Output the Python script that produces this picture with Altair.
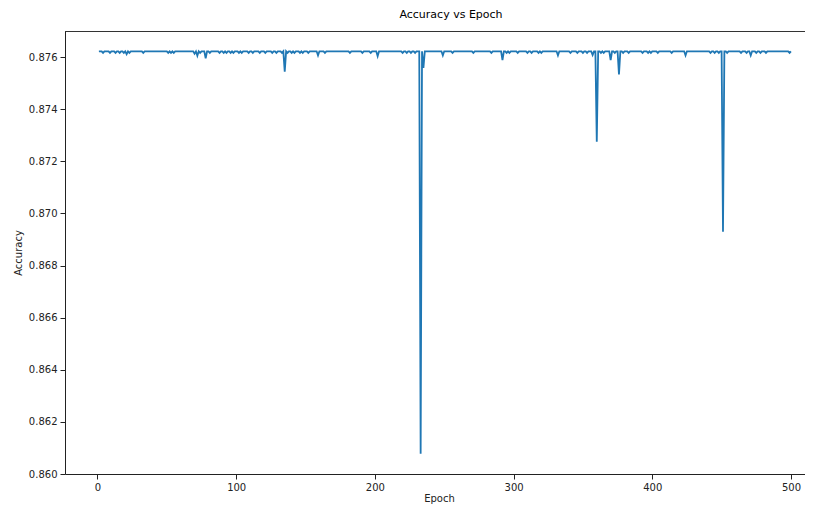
import altair as alt
import pandas as pd

# ---- data ----
epochs = list(range(1, 501))
baseline_acc = 0.87622

small_dip_epochs = [4, 9, 13, 16, 19, 23, 33, 51, 53, 55, 74, 81, 88, 91, 93, 96, 98,
                    102, 104, 109, 112, 117, 121, 126, 129, 133, 137, 140, 142, 146,
                    148, 152, 164, 182, 191, 197, 220, 223, 226, 229, 256, 271, 284,
                    295, 297, 303, 310, 313, 318, 320, 341, 346, 350, 353, 363, 365,
                    373, 379, 383, 393, 397, 399, 404, 414, 442, 445, 448, 454, 464,
                    468, 475, 478, 482, 499]
small_dip_acc = 0.87616

medium_dip_epochs = [21, 70, 72, 159, 202, 249, 332, 357, 424, 471]
medium_dip_acc = [0.87611, 0.87613, 0.87605, 0.87606, 0.87603, 0.87606, 0.87606,
                  0.87608, 0.87606, 0.87606]

big_dip_epochs = [78, 135, 233, 235, 292, 360, 370, 376, 451]
big_dip_acc = [0.87595, 0.87544, 0.86078, 0.87558, 0.87588, 0.87275, 0.87588,
               0.87533, 0.86930]

x_ticks = [0, 100, 200, 300, 400, 500]
y_ticks = [0.860, 0.862, 0.864, 0.866, 0.868, 0.870, 0.872, 0.874, 0.876]

# ---- build table ----
acc = {e: baseline_acc for e in epochs}
for e in small_dip_epochs:
    acc[e] = small_dip_acc
for e, v in zip(medium_dip_epochs, medium_dip_acc):
    acc[e] = v
for e, v in zip(big_dip_epochs, big_dip_acc):
    acc[e] = v
df = pd.DataFrame({"Epoch": epochs, "Accuracy": [acc[e] for e in epochs]})

W, H = 748, 443
FONT = "DejaVu Sans"

line = alt.Chart(df).mark_line(color="#1f77b4", strokeWidth=1.8, clip=True).encode(
    x=alt.X("Epoch:Q",
            scale=alt.Scale(domain=[-23.43, 515.9], nice=False, zero=False),
            axis=alt.Axis(values=x_ticks, title="Epoch", format="d", grid=False,
                          tickSize=5, labelPadding=3, titlePadding=1,
                          domainColor="#222", tickColor="#222", labelColor="#222",
                          titleColor="#222", labelFontSize=10, titleFontSize=10,
                          titleFontWeight="normal", labelFont=FONT, titleFont=FONT)),
    y=alt.Y("Accuracy:Q",
            scale=alt.Scale(domain=[0.86, 0.877], nice=False, zero=False),
            axis=alt.Axis(values=y_ticks, title="Accuracy", format=".3f", grid=False,
                          tickSize=5, labelPadding=3, titlePadding=5,
                          domainColor="#222", tickColor="#222", labelColor="#222",
                          titleColor="#222", labelFontSize=10, titleFontSize=10,
                          titleFontWeight="normal", labelFont=FONT, titleFont=FONT)),
)

top_spine = alt.Chart(df).mark_rule(color="#333", strokeWidth=0.9).encode(
    x=alt.value(0), x2=alt.value(W), y=alt.value(0.5)
)

chart = alt.layer(line, top_spine).properties(
    width=W, height=H,
    title=alt.TitleParams("Accuracy vs Epoch", anchor="middle", frame="group",
                          dx=12, offset=11, fontSize=11, font=FONT,
                          fontWeight="normal", color="#000"),
    autosize=alt.AutoSizeParams(type="none"),
    padding={"left": 57, "top": 23, "right": -8, "bottom": 34},
).configure_view(stroke=None)

chart.save("out.html", embed_options={"renderer": "svg", "actions": False})
